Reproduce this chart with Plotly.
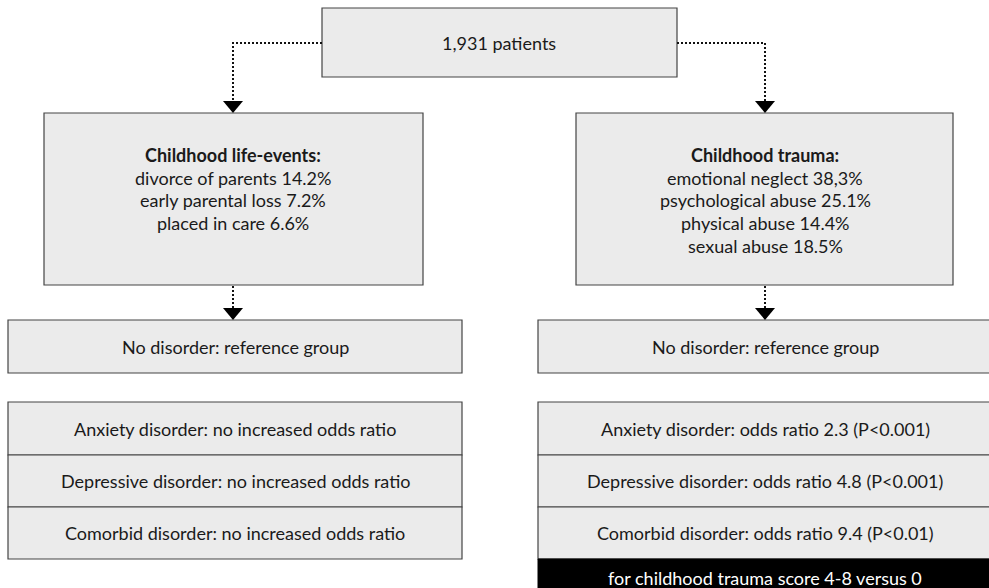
import plotly.graph_objects as go

W, H = 989, 588

# ---- content ----
top_label = "1,931 patients"
left_title = "Childhood life-events:"
left_items = ["divorce of parents 14.2%", "early parental loss 7.2%", "placed in care 6.6%"]
right_title = "Childhood trauma:"
right_items = ["emotional neglect 38,3%", "psychological abuse 25.1%",
               "physical abuse 14.4%", "sexual abuse 18.5%"]
reference_label = "No disorder: reference group"
left_results = ["Anxiety disorder: no increased odds ratio",
                "Depressive disorder: no increased odds ratio",
                "Comorbid disorder: no increased odds ratio"]
right_results = ["Anxiety disorder: odds ratio 2.3 (P<0.001)",
                 "Depressive disorder: odds ratio 4.8 (P<0.001)",
                 "Comorbid disorder: odds ratio 9.4 (P<0.01)"]
footnote = "for childhood trauma score 4-8 versus 0"

FILL = "#ebebeb"
EDGE = "#444444"
FONT = "Lato"
FS = 18
TXT = "#1a1a1a"

shapes = []
annotations = []


def box(x0, y0, x1, y1, fill=FILL, edge=EDGE, w=1.2):
    shapes.append(dict(type="rect", xref="x", yref="y", x0=x0, y0=y0, x1=x1, y1=y1,
                       fillcolor=fill, line=dict(color=edge, width=w), layer="below"))


def text(x, y, s, bold=False, color=TXT, size=FS):
    annotations.append(dict(x=x, y=y, xref="x", yref="y", text=f"<b>{s}</b>" if bold else s,
                            showarrow=False, xanchor="center", yanchor="middle",
                            font=dict(family=FONT, size=size, color=color)))


def dotted(pts):
    path = "M " + " L ".join(f"{px},{py}" for px, py in pts)
    shapes.append(dict(type="path", xref="x", yref="y", path=path,
                       line=dict(color="#111111", width=2, dash="2px,2px")))


def arrowhead(x, ytip):
    path = f"M {x-10},{ytip-12} L {x+10},{ytip-12} L {x},{ytip} Z"
    shapes.append(dict(type="path", xref="x", yref="y", path=path,
                       fillcolor="#000000", line=dict(color="#000000", width=0)))


# top box
box(322, 8, 677, 77)
text(499, 43, top_label)

# connectors from top box
lx, rx = 233, 765
dotted([(322, 43), (lx, 43), (lx, 101)])
arrowhead(lx, 113)
dotted([(677, 43), (rx, 43), (rx, 101)])
arrowhead(rx, 113)

# group boxes
box(44, 113, 423, 285)
box(576, 113, 953, 285)
ls = 22.7
text(lx, 155, left_title, bold=True)
for i, s in enumerate(left_items):
    text(lx, 155 + (i + 1) * ls, s)
text(rx, 155, right_title, bold=True)
for i, s in enumerate(right_items):
    text(rx, 155 + (i + 1) * ls, s)

# arrows down to reference boxes
dotted([(lx, 286), (lx, 308)])
arrowhead(lx, 320)
dotted([(rx, 286), (rx, 308)])
arrowhead(rx, 320)

# reference boxes
L0, L1 = 8, 462
R0, R1 = 538, 992
box(L0, 320, L1, 373)
box(R0, 320, R1, 373)
text(235, 347, reference_label)
text(rx, 347, reference_label)

# results tables
rows = [402, 455, 507, 559]
for i in range(3):
    box(L0, rows[i], L1, rows[i + 1])
    box(R0, rows[i], R1, rows[i + 1])
    cy = (rows[i] + rows[i + 1]) / 2
    text(235, cy, left_results[i])
    text(rx, cy, right_results[i])

# footnote bar
box(R0, 559, R1, 600, fill="#000000", edge="#000000", w=1)
text(rx, 578, footnote, color="#ffffff")

fig = go.Figure()
fig.add_trace(go.Scatter(x=[0, W], y=[0, H], mode="markers",
                         marker=dict(opacity=0), hoverinfo="skip", showlegend=False))
fig.update_layout(
    width=W, height=H,
    margin=dict(l=0, r=0, t=0, b=0),
    paper_bgcolor="white", plot_bgcolor="white",
    xaxis=dict(range=[0, W], visible=False, fixedrange=True),
    yaxis=dict(range=[H, 0], visible=False, fixedrange=True),
    shapes=shapes, annotations=annotations,
    showlegend=False,
)
fig.write_html("out.html", config={"displayModeBar": False},
               post_script="document.body.style.margin='0';document.body.style.overflow='hidden';")
